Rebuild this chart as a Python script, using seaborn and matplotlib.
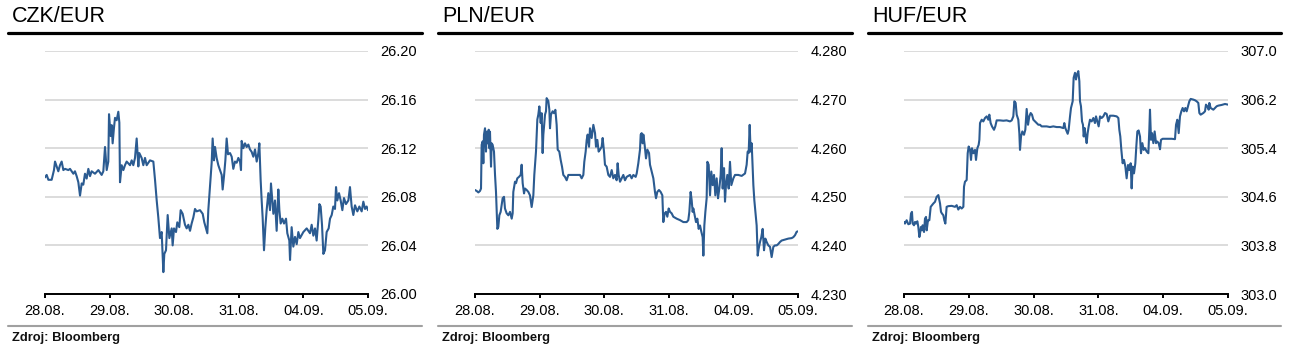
import matplotlib
matplotlib.use('Agg')
import matplotlib.pyplot as plt
import seaborn as sns
from matplotlib.lines import Line2D
from matplotlib.ticker import FormatStrFormatter

# popisky
pairs = ['CZK/EUR', 'PLN/EUR', 'HUF/EUR']
dates = ['28.08.', '29.08.', '30.08.', '31.08.', '04.09.', '05.09.']
source = 'Zdroj: Bloomberg'

# osy y
czk_ticks = [26.00, 26.04, 26.08, 26.12, 26.16, 26.20]
pln_ticks = [4.230, 4.240, 4.250, 4.260, 4.270, 4.280]
huf_ticks = [303.0, 303.8, 304.6, 305.4, 306.2, 307.0]

# CZK/EUR (cas v dnech od 28.08.)
czk_t = [0.000, 0.026, 0.052, 0.103, 0.139, 0.155, 0.181, 0.206, 0.232, 0.258,
         0.284, 0.310, 0.361, 0.387, 0.439, 0.464, 0.490, 0.516, 0.542, 0.568,
         0.593, 0.619, 0.645, 0.671, 0.697, 0.722, 0.774, 0.826, 0.877, 0.903,
         0.929, 0.955, 0.980, 0.991, 1.017, 1.032, 1.047, 1.068, 1.084, 1.109,
         1.135, 1.151, 1.161, 1.187, 1.213, 1.238, 1.264, 1.316, 1.342, 1.367,
         1.393, 1.419, 1.445, 1.460, 1.496, 1.522, 1.548, 1.574, 1.625, 1.677,
         1.703, 1.729, 1.754, 1.780, 1.806, 1.821, 1.832, 1.847, 1.873, 1.899,
         1.925, 1.961, 1.976, 1.997, 2.028, 2.048, 2.079, 2.100, 2.131, 2.167,
         2.193, 2.219, 2.245, 2.270, 2.296, 2.322, 2.348, 2.399, 2.441, 2.466,
         2.492, 2.513, 2.528, 2.554, 2.580, 2.595, 2.616, 2.632, 2.657, 2.683,
         2.709, 2.735, 2.750, 2.771, 2.792, 2.812, 2.833, 2.864, 2.890, 2.915,
         2.941, 2.967, 2.993, 3.019, 3.034, 3.044, 3.070, 3.096, 3.122, 3.148,
         3.173, 3.199, 3.225, 3.251, 3.277, 3.302, 3.318, 3.338, 3.354, 3.369,
         3.390, 3.411, 3.431, 3.457, 3.483, 3.498, 3.519, 3.535, 3.560, 3.586,
         3.612, 3.628, 3.648, 3.674, 3.700, 3.731, 3.751, 3.782, 3.793, 3.818,
         3.844, 3.870, 3.896, 3.922, 3.947, 3.999, 4.051, 4.102, 4.128, 4.154,
         4.180, 4.205, 4.231, 4.247, 4.267, 4.288, 4.309, 4.334, 4.360, 4.391,
         4.412, 4.438, 4.463, 4.489, 4.505, 4.525, 4.551, 4.577, 4.603, 4.628,
         4.659, 4.696, 4.721, 4.747, 4.773, 4.799, 4.835, 4.866, 4.902, 4.928,
         4.954, 4.979, 5.000]
czk_v = [26.096, 26.098, 26.094, 26.094, 26.102, 26.109, 26.105, 26.101, 26.106, 26.109,
         26.102, 26.103, 26.102, 26.103, 26.099, 26.101, 26.097, 26.092, 26.081, 26.091,
         26.090, 26.099, 26.095, 26.103, 26.097, 26.101, 26.099, 26.102, 26.098, 26.101,
         26.121, 26.102, 26.109, 26.148, 26.130, 26.139, 26.124, 26.137, 26.145, 26.143,
         26.150, 26.141, 26.092, 26.106, 26.102, 26.106, 26.109, 26.106, 26.110, 26.106,
         26.112, 26.128, 26.105, 26.116, 26.112, 26.106, 26.112, 26.106, 26.110, 26.109,
         26.094, 26.077, 26.063, 26.046, 26.051, 26.033, 26.018, 26.033, 26.036, 26.065,
         26.046, 26.054, 26.040, 26.054, 26.051, 26.059, 26.055, 26.069, 26.066, 26.057,
         26.054, 26.057, 26.052, 26.058, 26.063, 26.070, 26.068, 26.069, 26.066, 26.059,
         26.054, 26.050, 26.069, 26.088, 26.108, 26.128, 26.110, 26.121, 26.112, 26.106,
         26.102, 26.098, 26.086, 26.097, 26.110, 26.128, 26.115, 26.116, 26.113, 26.103,
         26.109, 26.108, 26.112, 26.109, 26.102, 26.126, 26.120, 26.124, 26.121, 26.123,
         26.119, 26.117, 26.113, 26.119, 26.109, 26.116, 26.124, 26.094, 26.077, 26.063,
         26.036, 26.055, 26.069, 26.083, 26.069, 26.091, 26.077, 26.066, 26.077, 26.052,
         26.086, 26.069, 26.058, 26.062, 26.058, 26.062, 26.050, 26.044, 26.028, 26.055,
         26.039, 26.047, 26.041, 26.051, 26.046, 26.051, 26.054, 26.050, 26.057, 26.048,
         26.054, 26.044, 26.061, 26.074, 26.072, 26.057, 26.033, 26.036, 26.051, 26.054,
         26.062, 26.065, 26.072, 26.070, 26.088, 26.077, 26.083, 26.077, 26.069, 26.079,
         26.074, 26.077, 26.088, 26.072, 26.065, 26.073, 26.068, 26.072, 26.068, 26.076,
         26.070, 26.072, 26.069]

# PLN/EUR
pln_t = [0.000, 0.026, 0.052, 0.077, 0.093, 0.103, 0.119, 0.129, 0.139, 0.155,
         0.170, 0.181, 0.196, 0.212, 0.222, 0.232, 0.248, 0.258, 0.273, 0.294,
         0.310, 0.325, 0.346, 0.361, 0.377, 0.397, 0.413, 0.428, 0.449, 0.464,
         0.490, 0.516, 0.542, 0.568, 0.583, 0.593, 0.619, 0.635, 0.655, 0.681,
         0.707, 0.722, 0.738, 0.759, 0.774, 0.800, 0.826, 0.851, 0.877, 0.903,
         0.918, 0.944, 0.965, 0.980, 0.996, 1.017, 1.032, 1.047, 1.058, 1.084,
         1.099, 1.109, 1.135, 1.151, 1.161, 1.176, 1.202, 1.223, 1.244, 1.264,
         1.280, 1.305, 1.326, 1.347, 1.367, 1.393, 1.419, 1.445, 1.471, 1.522,
         1.574, 1.625, 1.651, 1.677, 1.692, 1.713, 1.729, 1.744, 1.765, 1.780,
         1.806, 1.832, 1.858, 1.873, 1.894, 1.914, 1.935, 1.961, 1.976, 1.997,
         2.012, 2.038, 2.064, 2.090, 2.116, 2.141, 2.167, 2.193, 2.208, 2.224,
         2.245, 2.270, 2.296, 2.322, 2.348, 2.399, 2.425, 2.451, 2.487, 2.503,
         2.528, 2.554, 2.565, 2.580, 2.595, 2.606, 2.626, 2.647, 2.668, 2.694,
         2.709, 2.735, 2.761, 2.786, 2.802, 2.822, 2.848, 2.874, 2.900, 2.915,
         2.936, 2.957, 2.977, 2.998, 3.019, 3.044, 3.070, 3.122, 3.173, 3.225,
         3.277, 3.302, 3.318, 3.338, 3.354, 3.369, 3.380, 3.400, 3.421, 3.442,
         3.462, 3.483, 3.504, 3.524, 3.535, 3.550, 3.566, 3.586, 3.597, 3.617,
         3.638, 3.658, 3.679, 3.700, 3.720, 3.741, 3.762, 3.782, 3.803, 3.818,
         3.834, 3.855, 3.870, 3.885, 3.906, 3.927, 3.947, 3.968, 3.999, 4.025,
         4.076, 4.128, 4.180, 4.205, 4.221, 4.236, 4.252, 4.267, 4.283, 4.298,
         4.309, 4.324, 4.340, 4.360, 4.376, 4.391, 4.412, 4.432, 4.453, 4.474,
         4.494, 4.515, 4.541, 4.567, 4.592, 4.618, 4.644, 4.670, 4.696, 4.721,
         4.747, 4.799, 4.850, 4.902, 4.928, 4.954, 4.979, 5.000]
pln_v = [4.2514, 4.2512, 4.2509, 4.2512, 4.2517, 4.2607, 4.2614, 4.2569, 4.2628, 4.2641,
         4.2593, 4.2634, 4.2610, 4.2638, 4.2600, 4.2634, 4.2562, 4.2610, 4.2607, 4.2593,
         4.2545, 4.2510, 4.2434, 4.2438, 4.2462, 4.2469, 4.2483, 4.2497, 4.2500, 4.2476,
         4.2466, 4.2462, 4.2469, 4.2455, 4.2466, 4.2510, 4.2531, 4.2528, 4.2538, 4.2541,
         4.2545, 4.2566, 4.2528, 4.2507, 4.2517, 4.2514, 4.2510, 4.2503, 4.2479, 4.2503,
         4.2545, 4.2593, 4.2659, 4.2669, 4.2686, 4.2652, 4.2672, 4.2590, 4.2628, 4.2669,
         4.2676, 4.2703, 4.2697, 4.2679, 4.2641, 4.2669, 4.2676, 4.2672, 4.2679, 4.2648,
         4.2597, 4.2593, 4.2576, 4.2562, 4.2545, 4.2541, 4.2534, 4.2545, 4.2545, 4.2545,
         4.2545, 4.2545, 4.2538, 4.2545, 4.2572, 4.2593, 4.2617, 4.2628, 4.2603, 4.2641,
         4.2621, 4.2648, 4.2631, 4.2603, 4.2617, 4.2593, 4.2597, 4.2603, 4.2621, 4.2593,
         4.2566, 4.2562, 4.2545, 4.2541, 4.2555, 4.2538, 4.2545, 4.2534, 4.2569, 4.2545,
         4.2531, 4.2538, 4.2545, 4.2534, 4.2541, 4.2545, 4.2538, 4.2545, 4.2541, 4.2548,
         4.2569, 4.2597, 4.2628, 4.2631, 4.2610, 4.2628, 4.2607, 4.2579, 4.2597, 4.2590,
         4.2566, 4.2552, 4.2538, 4.2510, 4.2497, 4.2510, 4.2514, 4.2510, 4.2503, 4.2448,
         4.2466, 4.2469, 4.2459, 4.2476, 4.2469, 4.2466, 4.2459, 4.2455, 4.2452, 4.2448,
         4.2448, 4.2452, 4.2469, 4.2510, 4.2493, 4.2469, 4.2476, 4.2462, 4.2448, 4.2455,
         4.2434, 4.2441, 4.2428, 4.2417, 4.2379, 4.2441, 4.2469, 4.2497, 4.2572, 4.2566,
         4.2503, 4.2552, 4.2524, 4.2545, 4.2503, 4.2538, 4.2497, 4.2517, 4.2545, 4.2600,
         4.2517, 4.2559, 4.2490, 4.2524, 4.2545, 4.2517, 4.2572, 4.2524, 4.2538, 4.2545,
         4.2545, 4.2543, 4.2548, 4.2566, 4.2593, 4.2590, 4.2648, 4.2593, 4.2610, 4.2562,
         4.2524, 4.2493, 4.2469, 4.2441, 4.2379, 4.2393, 4.2407, 4.2417, 4.2434, 4.2390,
         4.2414, 4.2407, 4.2400, 4.2397, 4.2376, 4.2397, 4.2400, 4.2400, 4.2403, 4.2407,
         4.2410, 4.2412, 4.2414, 4.2415, 4.2417, 4.2421, 4.2428, 4.2429]

# HUF/EUR
huf_t = [0.000, 0.015, 0.041, 0.067, 0.093, 0.108, 0.123, 0.134, 0.154, 0.170,
         0.185, 0.206, 0.221, 0.237, 0.247, 0.262, 0.278, 0.288, 0.309, 0.324,
         0.340, 0.350, 0.370, 0.391, 0.412, 0.432, 0.453, 0.478, 0.504, 0.530,
         0.545, 0.556, 0.571, 0.586, 0.607, 0.622, 0.638, 0.648, 0.658, 0.684,
         0.736, 0.787, 0.813, 0.838, 0.864, 0.890, 0.916, 0.926, 0.941, 0.967,
         0.983, 0.998, 1.019, 1.034, 1.049, 1.070, 1.096, 1.111, 1.132, 1.152,
         1.163, 1.173, 1.199, 1.224, 1.250, 1.276, 1.301, 1.317, 1.337, 1.358,
         1.389, 1.409, 1.430, 1.481, 1.533, 1.584, 1.636, 1.662, 1.687, 1.703,
         1.723, 1.739, 1.764, 1.780, 1.790, 1.806, 1.826, 1.852, 1.872, 1.893,
         1.914, 1.934, 1.955, 1.975, 1.996, 2.022, 2.047, 2.073, 2.099, 2.124,
         2.150, 2.202, 2.253, 2.304, 2.356, 2.407, 2.459, 2.474, 2.490, 2.510,
         2.526, 2.541, 2.562, 2.577, 2.603, 2.618, 2.639, 2.654, 2.670, 2.690,
         2.706, 2.716, 2.731, 2.747, 2.762, 2.773, 2.788, 2.803, 2.819, 2.834,
         2.850, 2.870, 2.896, 2.922, 2.947, 2.963, 2.983, 3.004, 3.025, 3.050,
         3.076, 3.102, 3.128, 3.153, 3.179, 3.230, 3.282, 3.308, 3.323, 3.338,
         3.354, 3.374, 3.395, 3.416, 3.436, 3.457, 3.477, 3.498, 3.513, 3.529,
         3.549, 3.570, 3.585, 3.601, 3.621, 3.642, 3.657, 3.678, 3.699, 3.719,
         3.745, 3.771, 3.786, 3.796, 3.812, 3.827, 3.848, 3.868, 3.889, 3.909,
         3.930, 3.951, 3.966, 3.992, 4.053, 4.131, 4.182, 4.198, 4.218, 4.239,
         4.259, 4.280, 4.300, 4.321, 4.342, 4.362, 4.383, 4.403, 4.424, 4.465,
         4.491, 4.516, 4.542, 4.558, 4.578, 4.619, 4.645, 4.660, 4.681, 4.702,
         4.712, 4.732, 4.774, 4.800, 4.825, 4.851, 4.902, 4.954, 5.000]
huf_v = [304.186, 304.159, 304.214, 304.148, 304.159, 304.324, 304.352, 304.159, 304.131, 304.186,
         304.159, 304.197, 304.104, 303.938, 303.993, 304.104, 304.048, 304.131, 304.021, 304.241,
         304.269, 304.048, 304.214, 304.214, 304.435, 304.462, 304.490, 304.517, 304.600, 304.628,
         304.545, 304.490, 304.352, 304.324, 304.297, 304.214, 304.159, 304.297, 304.435, 304.446,
         304.451, 304.435, 304.462, 304.390, 304.435, 304.407, 304.435, 304.766, 304.848, 304.876,
         305.317, 305.428, 305.372, 305.207, 305.400, 305.317, 305.372, 305.207, 305.400, 305.455,
         305.538, 305.814, 305.869, 305.841, 305.897, 305.924, 305.869, 305.952, 305.814, 305.759,
         305.703, 305.759, 305.858, 305.858, 305.852, 305.858, 305.841, 305.858, 305.924, 306.172,
         306.145, 305.952, 305.869, 305.648, 305.372, 305.593, 305.676, 305.621, 305.703, 306.046,
         305.786, 305.924, 305.979, 305.952, 305.869, 305.841, 305.814, 305.786, 305.786, 305.759,
         305.759, 305.759, 305.748, 305.759, 305.748, 305.748, 305.731, 305.814, 305.731, 305.676,
         305.637, 305.703, 305.924, 306.062, 306.172, 306.559, 306.641, 306.531, 306.614, 306.669,
         306.503, 306.172, 306.090, 305.841, 305.786, 305.593, 305.731, 305.593, 305.483, 305.648,
         305.759, 305.869, 305.841, 305.897, 305.814, 305.924, 305.841, 305.759, 305.924, 305.897,
         305.924, 305.979, 305.963, 305.841, 305.935, 305.935, 305.924, 305.897, 305.703, 305.593,
         305.372, 305.152, 305.207, 305.097, 304.904, 305.124, 305.041, 305.152, 304.738, 305.097,
         304.986, 305.152, 305.428, 305.676, 305.692, 305.593, 305.317, 305.483, 305.372, 305.400,
         305.345, 305.317, 305.703, 306.034, 305.538, 305.648, 305.483, 305.676, 305.483, 305.510,
         305.483, 305.383, 305.538, 305.555, 305.555, 305.555, 305.549, 305.786, 305.869, 305.648,
         305.924, 306.007, 306.062, 306.007, 306.062, 306.007, 306.090, 306.172, 306.211, 306.200,
         306.189, 306.172, 306.145, 305.979, 305.952, 305.979, 306.007, 306.117, 306.090, 306.034,
         306.145, 306.062, 306.034, 306.062, 306.090, 306.101, 306.112, 306.128, 306.117]

assert len(czk_t) == len(czk_v) and len(pln_t) == len(pln_v) and len(huf_t) == len(huf_v)

sns.set_style('white')
plt.rcParams['font.family'] = ['Liberation Sans', 'DejaVu Sans']

W, H = 1299, 354
fig = plt.figure(figsize=(W / 100, H / 100), dpi=100)

line_color = '#2b5b91'
panels = [
    (czk_t, czk_v, czk_ticks, '%.2f'),
    (pln_t, pln_v, pln_ticks, '%.3f'),
    (huf_t, huf_v, huf_ticks, '%.1f'),
]
ax_left = [45, 475, 904]
ax_right = [368, 798, 1228]
box_left = [8, 438, 868]
box_right = [422, 852, 1281]
ax_top, ax_bottom = 51, 294

for i, (t, v, yt, fmt) in enumerate(panels):
    ax = fig.add_axes([ax_left[i] / W, 1 - ax_bottom / H,
                       (ax_right[i] - ax_left[i]) / W, (ax_bottom - ax_top) / H])
    sns.lineplot(x=t, y=v, ax=ax, color=line_color, linewidth=1.5,
                 estimator=None, sort=False)
    ax.set_xlim(0, 5)
    ax.set_ylim(yt[0], yt[-1])
    ax.set_yticks(yt)
    ax.yaxis.set_major_formatter(FormatStrFormatter(fmt))
    ax.set_xticks(range(len(dates)))
    ax.set_xticklabels(dates)
    ax.yaxis.tick_right()
    ax.tick_params(axis='y', length=0, pad=9, labelsize=10.5, colors='black')
    ax.tick_params(axis='x', length=3, width=1.4, pad=4, labelsize=10.5,
                   direction='out', colors='black', bottom=True)
    ax.grid(axis='y', color='#d9d9d9', linewidth=1.3)
    ax.grid(axis='x', visible=False)
    ax.set_axisbelow(True)
    for s in ['top', 'left', 'right']:
        ax.spines[s].set_visible(False)
    ax.spines['bottom'].set_color('black')
    ax.spines['bottom'].set_linewidth(1.4)
    ax.set_xlabel('')
    ax.set_ylabel('')

    # hlavicka a paticka panelu
    fig.text((box_left[i] + 4) / W, 1 - 16 / H, pairs[i], fontsize=15.5,
             va='center', ha='left', color='black')
    fig.add_artist(Line2D([box_left[i] / W, box_right[i] / W], [1 - 32.5 / H] * 2,
                          color='black', linewidth=2.3))
    fig.add_artist(Line2D([box_left[i] / W, box_right[i] / W], [1 - 326 / H] * 2,
                          color='#a0a0a0', linewidth=1.5))
    fig.text((box_left[i] + 4) / W, 1 - 338 / H, source, fontsize=9.3,
             fontweight='bold', va='center', ha='left', color='#111111')

fig.savefig('out.png', dpi=100)
